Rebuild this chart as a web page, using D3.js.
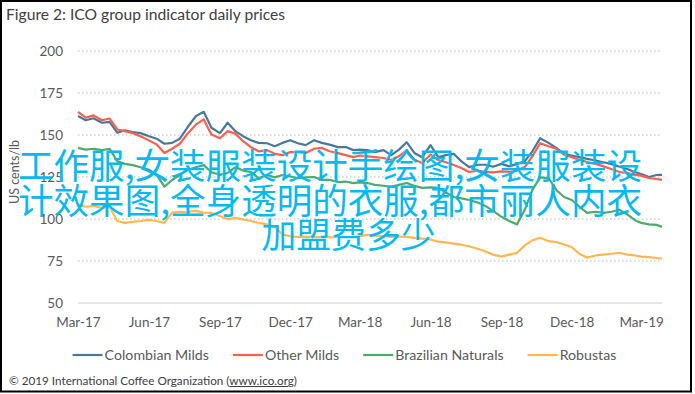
<!DOCTYPE html>
<html>
<head>
<meta charset="utf-8">
<script src="https://cdn.jsdelivr.net/npm/d3@7"></script>
<style>
html,body{margin:0;padding:0;background:#fff;}
svg{display:block;}
</style>
</head>
<body>
<svg id="chart" width="695" height="394"></svg>
<script>
const title = "Figure 2: ICO group indicator daily prices";
const yAxisTitle = "US cents/lb";
const footerText = "© 2019 International Coffee Organization (";
const footerLink = "www.ico.org";
const yTicks = [50, 75, 100, 125, 150, 175, 200];
const xTickLabels = ["2017-03-01","2017-06-01","2017-09-01","2017-12-01","2018-03-01","2018-06-01","2018-09-01","2018-12-01","2019-03-01"];
const seriesNames = ["Colombian Milds", "Other Milds", "Brazilian Naturals", "Robustas"];
const seriesColors = ["#4a789c", "#fb5f4e", "#4daa6b", "#ffb84f"];

const dates = [
"2017-03-01","2017-03-11","2017-03-21","2017-04-01","2017-04-11","2017-04-21","2017-05-01","2017-05-11","2017-05-21","2017-06-01",
"2017-06-11","2017-06-21","2017-07-01","2017-07-11","2017-07-21","2017-08-01","2017-08-11","2017-08-21","2017-09-01","2017-09-11",
"2017-09-21","2017-10-01","2017-10-11","2017-10-21","2017-11-01","2017-11-11","2017-11-21","2017-12-01","2017-12-11","2017-12-21",
"2018-01-01","2018-01-11","2018-01-21","2018-02-01","2018-02-11","2018-02-21","2018-03-01","2018-03-11","2018-03-21","2018-04-01",
"2018-04-11","2018-04-21","2018-05-01","2018-05-11","2018-05-21","2018-06-01","2018-06-11","2018-06-21","2018-07-01","2018-07-11",
"2018-07-21","2018-08-01","2018-08-11","2018-08-21","2018-09-01","2018-09-11","2018-09-21","2018-10-01","2018-10-11","2018-10-21",
"2018-11-01","2018-11-11","2018-11-21","2018-12-01","2018-12-11","2018-12-21","2019-01-01","2019-01-11","2019-01-21","2019-02-01",
"2019-02-11","2019-02-21","2019-03-01","2019-03-11","2019-03-21","2019-03-28"];

const colombianMilds = [
161, 158.5, 159.7, 157, 157.5, 151, 152.5, 151.5, 150.8, 149, 147.5, 144.5, 145, 147.5, 154.3, 161, 163.5, 154, 150.8, 157, 152, 149, 146.6, 145, 144.8, 143, 145, 146.6, 144.8, 143.7,
146.6, 145, 144, 142.5, 142.5, 140.7, 141, 140.7, 139.5, 140.7, 137.7, 141, 145.4, 139, 136.5, 143.7, 136.5, 137.7, 138.5, 134, 130.6, 132, 132, 130.8, 132.5, 131, 132.5, 134, 140, 147.8, 145, 142, 138.5, 137.5, 136.5, 135.5,
134.5, 133.5, 132.5, 130.8, 129.5, 127.5, 126.5, 124.7, 125.9, 126];

const otherMilds = [
163.5, 160, 161.4, 158.5, 159.5, 153, 152, 150.8, 149, 146.5, 144, 139, 141.5, 144.5, 150.5, 156, 159, 150, 147.8, 152, 150.5, 146, 142.5, 140, 140.7, 138.5, 137.7, 139.5, 139.5, 139,
141.5, 142, 140, 138.9, 137.7, 136.5, 137.5, 137, 136.5, 136, 134.8, 137, 140.7, 135, 133, 138, 134.8, 133.5, 131.8, 130, 127.7, 128.5, 127.7, 127.5, 128, 127.7, 128.5, 130.6, 137, 144.8, 143, 141.5, 138, 136.5, 135, 133.6,
132.5, 131, 129.5, 127.7, 127, 126, 125.5, 124.1, 123.5, 123];

const brazilianNaturals = [
142, 141, 141.5, 140.7, 141.5, 134, 132.5, 131.8, 130.5, 129, 126, 119, 122.9, 126, 128.8, 130.5, 131.8, 127.5, 126, 127.1, 130.6, 128.5, 127.7, 124, 125.9, 124.5, 125.9, 125, 124.1, 124.5,
124.7, 123, 123, 121.7, 122, 121.1, 121.5, 121.1, 120, 119.5, 118.8, 120, 121.1, 119.5, 118.2, 118.5, 118.2, 115.5, 112.8, 112, 111, 109.5, 107.5, 104.5, 101, 98.5, 96.5, 105, 117, 124.5, 124, 117, 112.8, 111, 107, 103.3,
104, 103.3, 104, 105.1, 102.5, 99, 97.4, 96.5, 96.2, 95];

const robustas = [
108, 107, 107.5, 106.3, 106.8, 98.5, 97.4, 98, 98.5, 99.2, 98.5, 97.4, 103.5, 104, 103.9, 104.5, 103.5, 103.3, 101.5, 99.5, 100.4, 99.5, 98.5, 97.5, 96.5, 95, 90.5, 89.5, 89, 89.2,
89, 89, 88.8, 89, 89, 89, 89.5, 90.3, 89.8, 89.5, 89, 89.3, 89.1, 88.5, 88, 87.5, 86.2, 85.8, 85, 84.4, 83.5, 82, 80.5, 78.5, 77.3, 78.5, 79.5, 84, 87, 88.5, 86.5, 86, 84.5, 83, 79, 76.7,
78, 78.5, 79, 79.6, 78.5, 78, 77.3, 77, 76.5, 76.1];

const watermarkLines = ["工作服,女装服装设计手绘图,女装服装设", "计效果图,全身透明的衣服,都市丽人内衣", "加盟费多少"];

const seriesValues = [colombianMilds, otherMilds, brazilianNaturals, robustas];
const parse = d3.timeParse("%Y-%m-%d");
const svg = d3.select("#chart");
const font = "Lato, 'Open Sans', 'Liberation Sans', sans-serif";

const x = d3.scaleTime()
  .domain([parse("2017-03-01"), parse("2019-03-28")])
  .range([78, 662]);
const y = d3.scaleLinear().domain([50, 200]).range([302.5, 50.5]);

// frame
svg.append("rect").attr("x", 1).attr("y", 1).attr("width", 690).attr("height", 390.5)
  .attr("fill", "#fff").attr("stroke", "#000").attr("stroke-width", 2);

// title
svg.append("text").attr("x", 6).attr("y", 20).text(title)
  .attr("font-family", font).attr("font-size", 15.5).attr("fill", "#404040")
  .attr("textLength", 279).attr("lengthAdjust", "spacingAndGlyphs");

// grid
const yAxis = d3.axisLeft(y).tickValues(yTicks).tickSize(-(662 - 78)).tickPadding(15).tickFormat(d3.format("d"));
const gy = svg.append("g").attr("transform", "translate(78,0)").call(yAxis);
gy.select(".domain").remove();
gy.selectAll(".tick line")
  .attr("stroke-dasharray", d => d === 50 ? null : "1.5,2.5")
  .attr("stroke", d => d === 50 ? "#dedede" : "#cfcfcf")
  .attr("stroke-width", d => d === 50 ? 1.6 : 1.5);
gy.selectAll(".tick text").attr("font-family", font).attr("font-size", 13.5).attr("fill", "#595959")
  .attr("x", -15).attr("dy", "0.34em");

// x axis
const xAxis = d3.axisBottom(x).tickValues(xTickLabels.map(parse)).tickSize(0).tickPadding(14)
  .tickFormat(d3.timeFormat("%b-%y"));
const gx = svg.append("g").attr("transform", "translate(0,303)").call(xAxis);
gx.select(".domain").remove();
gx.selectAll(".tick text").attr("font-family", font).attr("font-size", 13.5).attr("fill", "#595959");

// y axis title
svg.append("text").attr("transform", "translate(19,172) rotate(-90)")
  .attr("text-anchor", "middle").text(yAxisTitle)
  .attr("font-family", font).attr("font-size", 12.5).attr("fill", "#595959");

// lines
const line = d3.line().x(d => x(d[0])).y(d => y(d[1]));
seriesValues.forEach((vals, i) => {
  const pts = dates.map((d, j) => [parse(d), vals[j]]);
  svg.append("path").datum(pts).attr("d", line)
    .attr("fill", "none").attr("stroke", seriesColors[i]).attr("stroke-width", 2.2)
    .attr("stroke-linejoin", "round");
});

// legend
const lg = svg.append("g");
let cx = 0;
const gap = 24;
seriesNames.forEach((name, i) => {
  const g = lg.append("g").attr("transform", `translate(${cx},0)`);
  g.append("line").attr("x1", 0).attr("x2", 30).attr("y1", 0).attr("y2", 0)
    .attr("stroke", seriesColors[i]).attr("stroke-width", 2.2);
  const t = g.append("text").attr("x", 32).attr("y", 5).text(name)
    .attr("font-family", font).attr("font-size", 14.2).attr("fill", "#595959");
  const w = t.node().getComputedTextLength();
  cx += 32 + w + gap;
});
const totalW = cx - gap;
lg.attr("transform", `translate(${344.5 - totalW / 2},355)`);

// footer
const ft = svg.append("text").attr("x", 9).attr("y", 385)
  .attr("font-family", font).attr("font-size", 10.5).attr("fill", "#404040")
  .attr("textLength", 288).attr("lengthAdjust", "spacingAndGlyphs");
ft.append("tspan").text(footerText);
ft.append("tspan").text(footerLink).attr("text-decoration", "underline");
ft.append("tspan").text(")");

// watermark overlay
const wm = svg.append("g").attr("font-family", "'Noto Sans CJK SC', sans-serif")
  .attr("font-size", 35.5).attr("fill", "#06b9f0");
wm.append("text").attr("x", 18).attr("y", 179).text(watermarkLines[0])
  .attr("textLength", 624).attr("lengthAdjust", "spacingAndGlyphs");
wm.append("text").attr("x", 18).attr("y", 213.5).text(watermarkLines[1])
  .attr("textLength", 624).attr("lengthAdjust", "spacingAndGlyphs");
wm.append("text").attr("x", 348.5).attr("y", 248).attr("text-anchor", "middle").text(watermarkLines[2])
  .attr("textLength", 174).attr("lengthAdjust", "spacingAndGlyphs");
</script>
</body>
</html>
